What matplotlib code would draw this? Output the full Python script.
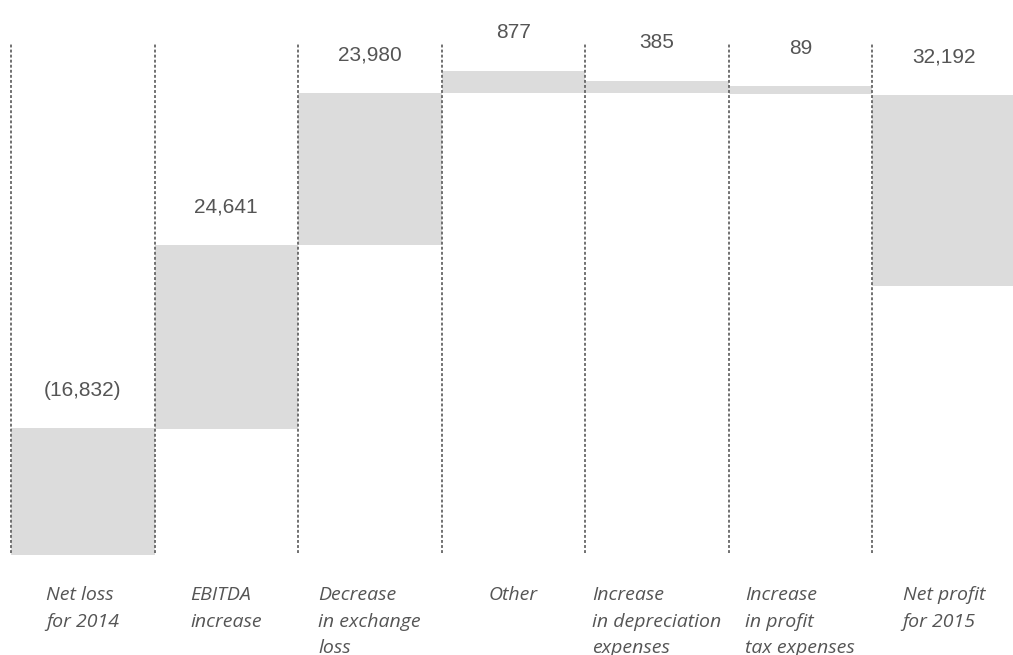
import matplotlib
matplotlib.use("Agg")
import numpy as np
from matplotlib import pyplot as plt

# categories (multi-line, as in the report)
categories = [
    "Net loss\nfor 2014",
    "EBITDA\nincrease",
    "Decrease\nin exchange\nloss",
    "Other",
    "Increase\nin depreciation\nexpenses",
    "Increase\nin profit\ntax expenses",
    "Net profit\nfor 2015",
]
# printed values (RUB mn)
value_labels = ["(16,832)", "24,641", "23,980", "877", "385", "89", "32,192"]

# bar extents as drawn in the original picture (chart units)
bar_low = [0, 126, 310, 462, 462, 461, 269]
bar_high = [127, 310, 462, 484, 474, 469, 460]

bar_color = "#dcdcdc"
text_color = "#555555"
line_color = "#666666"

fig = plt.figure(figsize=(10.13, 6.55), dpi=100)
ax = fig.add_axes([0, 0, 1, 1])
ax.set_xlim(-11 / 143.5, (1013 - 11) / 143.5)
ax.set_ylim(-100, 555)
ax.axis("off")

x = np.arange(len(categories))
low = np.array(bar_low)
high = np.array(bar_high)

ax.bar(x + 0.5, high - low, bottom=low, width=1.0, color=bar_color, zorder=1)

# dotted separators
ax.vlines(x, 2, 512, colors=line_color, linestyles=(0, (1.6, 1.2)), linewidth=1.3, zorder=2)

for i in range(len(categories)):
    ax.annotate(value_labels[i], (i + 0.5, high[i]), xytext=(0, 38), textcoords="offset pixels",
                ha="center", va="center", fontsize=15, color=text_color, family="Liberation Sans")
    ax.text(i + 0.5, -31, categories[i], ha="center", va="top", multialignment="left",
            fontsize=14, style="italic", color=text_color, family="Open Sans", linespacing=1.62)

fig.savefig("out.png", dpi=100)
